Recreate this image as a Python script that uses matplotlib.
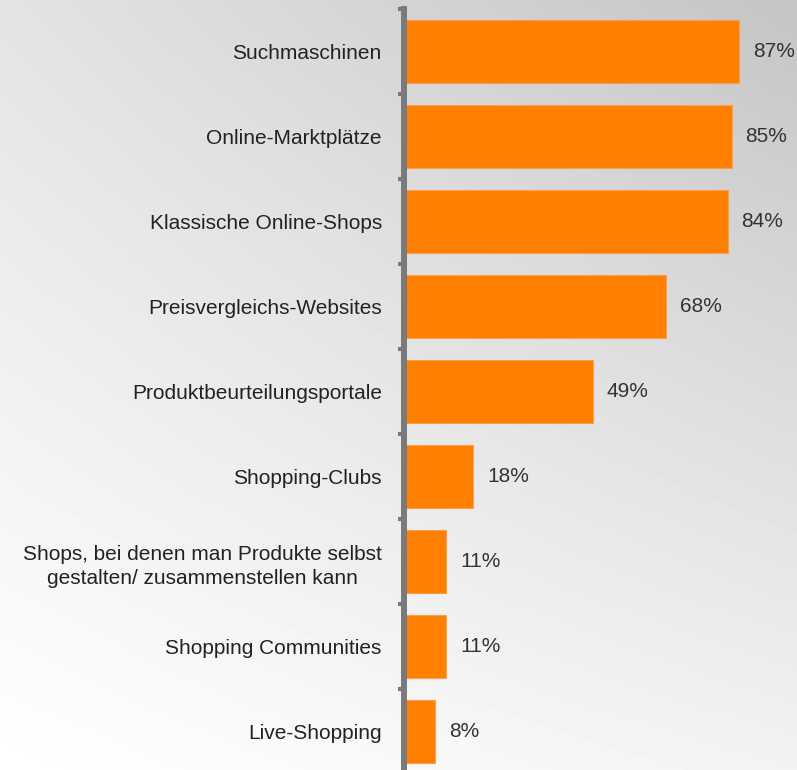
import matplotlib.pyplot as plt
import numpy as np

# data
categories = ['Suchmaschinen', 'Online-Marktplätze', 'Klassische Online-Shops',
              'Preisvergleichs-Websites', 'Produktbeurteilungsportale',
              'Shopping-Clubs',
              'Shops, bei denen man Produkte selbst\ngestalten/ zusammenstellen kann',
              'Shopping Communities', 'Live-Shopping']
values = [87, 85, 84, 68, 49, 18, 11, 11, 8]
labels = ['87%', '85%', '84%', '68%', '49%', '18%', '11%', '11%', '8%']

plt.rcParams['font.family'] = ['Liberation Sans', 'DejaVu Sans']

fig = plt.figure(figsize=(7.97, 7.70), dpi=100)

# background gradient: grey top-right, white bottom-left
bg = fig.add_axes([0, 0, 1, 1], zorder=0)
u = np.linspace(0, 1, 200)
v = np.linspace(0, 1, 200)
X, Y = np.meshgrid(u, v)
tl, tr, bl, br = 0.89, 0.77, 1.0, 0.95
grad = (tl * (1 - X) * (1 - Y) + tr * X * (1 - Y) + bl * (1 - X) * Y + br * X * Y)
bg.imshow(grad, cmap='gray', vmin=0, vmax=1, aspect='auto', extent=[0, 1, 1, 0])
bg.set_axis_off()

ax = fig.add_axes([404 / 797, -4 / 770, 393 / 797, 765 / 770], zorder=1)
ax.patch.set_alpha(0)

y = np.arange(len(categories))
ax.barh(y, values, height=0.73, color='#ff7f00', edgecolor='#f9a050', linewidth=0.8)

for yi, val, lab in zip(y, values, labels):
    ax.text(val + 3.6, yi, lab, va='center', ha='left', fontsize=15, color='#333333')

ax.set_xlim(0, 102)
ax.set_ylim(8.5, -0.5)
ax.set_yticks(y)
ax.set_yticklabels(categories, fontsize=15, color='#222222', ha='right',
                   multialignment='center', linespacing=1.35)
ax.tick_params(axis='y', which='major', length=0, pad=16)
ax.set_yticks(np.arange(-0.5, 9.0, 1.0), minor=True)
ax.tick_params(axis='y', which='minor', length=4, width=3, color='#7a7a7a', direction='out')
ax.set_xticks([])

for s in ['top', 'right', 'bottom']:
    ax.spines[s].set_visible(False)
ax.spines['left'].set_linewidth(4.3)
ax.spines['left'].set_color('#7a7a7a')

fig.savefig('out.png', dpi=100)
